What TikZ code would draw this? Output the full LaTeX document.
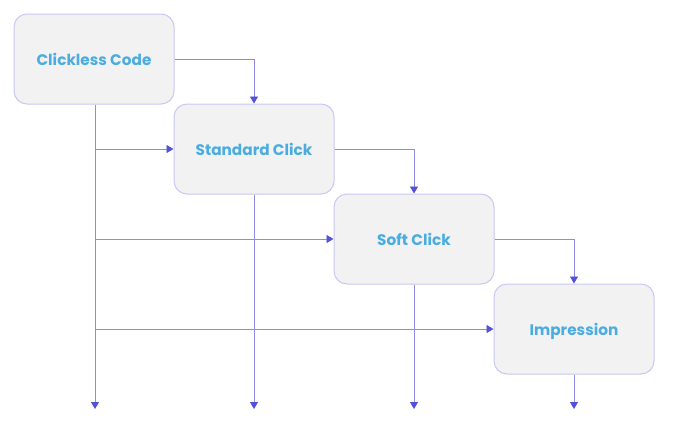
\documentclass[tikz,border=0pt]{standalone}
\usepackage{fontspec}
\setmainfont{Poppins}
\usetikzlibrary{arrows.meta}
\definecolor{linec}{RGB}{140,140,232}
\definecolor{tipc}{RGB}{82,82,214}
\definecolor{boxfill}{RGB}{242,242,242}
\definecolor{boxdraw}{RGB}{200,200,242}
\definecolor{textc}{RGB}{74,172,224}
\tikzset{
  stagebox/.style={draw=boxdraw, line width=1pt, fill=boxfill, rounded corners=13pt,
    minimum width=160pt, minimum height=90pt, inner sep=0pt, text depth=0pt,
    font=\bfseries\fontsize{15.3}{17}\selectfont, text=textc},
  conn/.style={draw=linec, line width=0.9pt, -{Triangle[length=7pt,width=8pt,color=tipc]}}
}
\begin{document}
\begin{tikzpicture}[x=1pt,y=-1pt]
\useasboundingbox (0,0) rectangle (688,442);
\node[stagebox] (a) at (94,59) {\raisebox{-1pt}{Clickless Code}};
\node[stagebox] (b) at (254,149) {\raisebox{-1pt}{Standard Click}};
\node[stagebox] (c) at (414,239) {\raisebox{-1pt}{Soft Click}};
\node[stagebox] (d) at (574,329) {\raisebox{-1pt}{Impression}};
\coordinate (ea) at (95,409);
\coordinate (eb) at (254,409);
\coordinate (ec) at (414,409);
\coordinate (ed) at (574,409);
\coordinate (jb) at (95,149);
\coordinate (jc) at (95,239);
\coordinate (jd) at (95,329);
\draw[conn] (a.east) -| (b.north);
\draw[conn] (b.east) -| (c.north);
\draw[conn] (c.east) -| (d.north);
\draw[conn] (a.south -| ea) -- (ea);
\draw[conn] (b.south) -- (eb);
\draw[conn] (c.south) -- (ec);
\draw[conn] (d.south) -- (ed);
\draw[conn] (jb) -- (b.west);
\draw[conn] (jc) -- (c.west);
\draw[conn] (jd) -- (d.west);
\end{tikzpicture}
\end{document}
